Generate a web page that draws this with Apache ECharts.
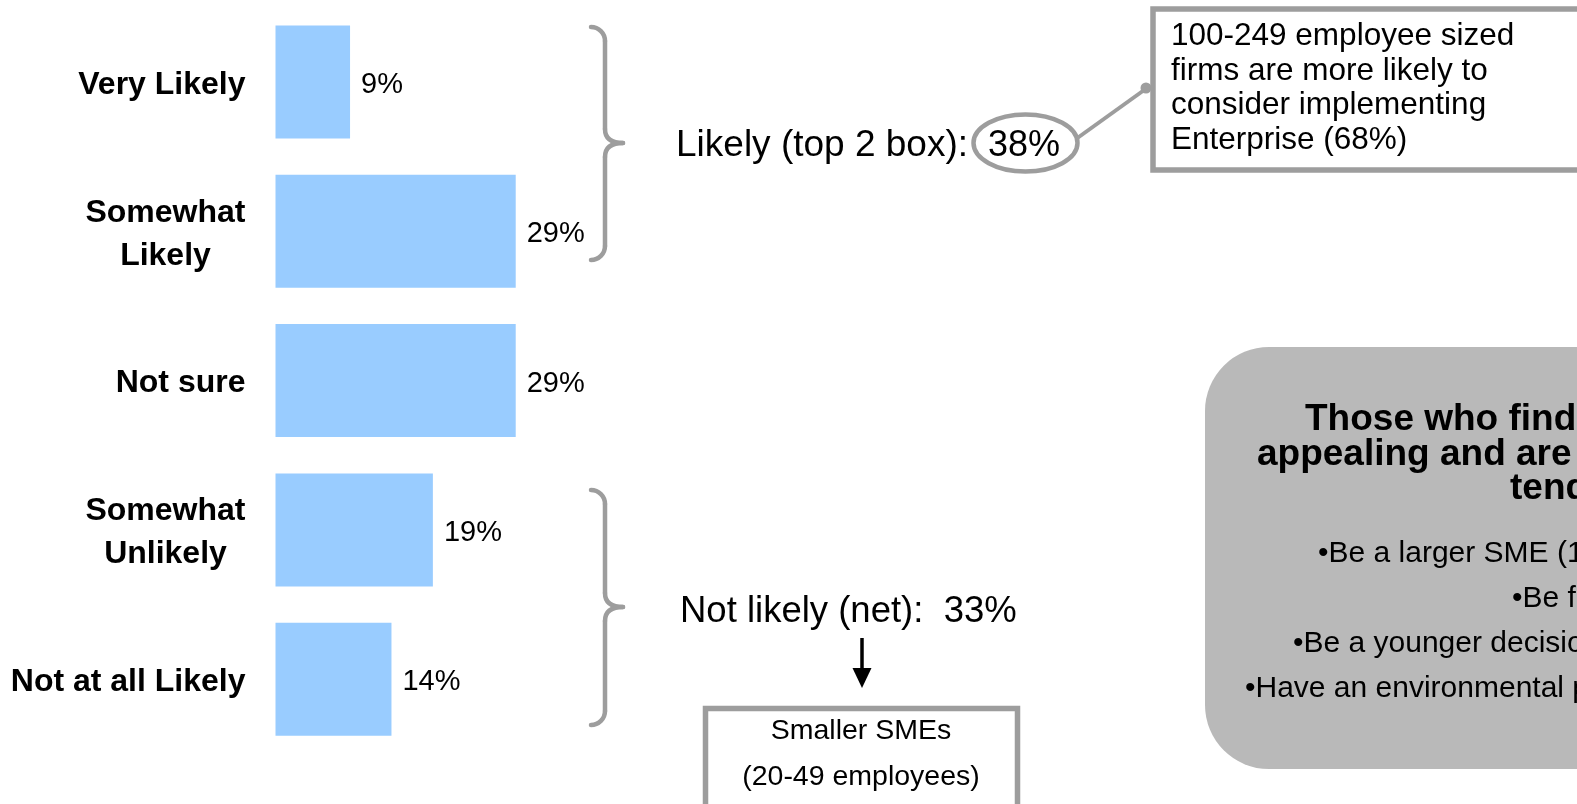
<!DOCTYPE html>
<html>
<head>
<meta charset="utf-8">
<title>Likelihood of implementing Enterprise</title>
<script src="https://cdn.jsdelivr.net/npm/echarts@6.0.0/dist/echarts.min.js"></script>
<style>
  html, body { margin: 0; padding: 0; background: #ffffff; }
  #chart { width: 1577px; height: 804px; }
</style>
</head>
<body>
<div id="chart"></div>
<script>
// Answer scale (top to bottom) and share of respondents in each answer, in %
const categories = ['Very Likely', 'Somewhat\nLikely', 'Not sure', 'Somewhat\nUnlikely', 'Not at all Likely'];
const shares = [9, 29, 29, 19, 14];

// Net summaries shown beside the braces
const likelyLabel = 'Likely (top 2 box): ';
const likelyNet = 38;
const unlikelyLabel = 'Not likely (net):  ';
const unlikelyNet = 33;

// Call-out texts
const largeFirmNote = ['100-249 employee sized', 'firms are more likely to', 'consider implementing', 'Enterprise (68%)'];
const smallFirmNote = ['Smaller SMEs', '(20-49 employees)'];
const profileTitle = ['Those who find Enterprise', 'appealing and are likely to', 'tend to:'];
const profileBullets = ['\u2022Be a larger SME (100-249 employees)', '\u2022Be female', '\u2022Be a younger decision maker', '\u2022Have an environmental policy'];

const FONT = '"Liberation Sans", Arial, Helvetica, sans-serif';
const GREY = '#9d9d9d';

const chart = echarts.init(document.getElementById('chart'), null, { renderer: 'canvas' });

// Curly brace built from two hooks, two straight runs and a pointed middle
function brace(xEnd, xLine, xTip, yTop, yBot, yMid, r) {
  const st = { stroke: GREY, lineWidth: 4.5, fill: null, lineCap: 'round' };
  return [
    { type: 'arc', shape: { cx: xEnd, cy: yTop + r, r: r, startAngle: -Math.PI / 2, endAngle: 0, clockwise: true }, style: st },
    { type: 'line', shape: { x1: xLine, y1: yTop + r, x2: xLine, y2: yMid - r }, style: st },
    { type: 'bezierCurve', shape: { x1: xLine, y1: yMid - r, cpx1: xLine, cpy1: yMid, x2: xTip, y2: yMid }, style: st },
    { type: 'bezierCurve', shape: { x1: xTip, y1: yMid, cpx1: xLine, cpy1: yMid, x2: xLine, y2: yMid + r }, style: st },
    { type: 'line', shape: { x1: xLine, y1: yMid + r, x2: xLine, y2: yBot - r }, style: st },
    { type: 'arc', shape: { cx: xEnd, cy: yBot - r, r: r, startAngle: 0, endAngle: Math.PI / 2, clockwise: true }, style: st }
  ];
}

function txt(text, x, y, size, opts) {
  return {
    type: 'text',
    style: Object.assign({
      text: text, x: x, y: y,
      fontFamily: FONT, fontSize: size, fontWeight: 'normal',
      fill: '#000000', textAlign: 'left', textVerticalAlign: 'middle'
    }, opts || {})
  };
}

const graphics = [];

// Braces grouping the top two and the bottom two answers
graphics.push(...brace(591, 605, 623, 27, 260, 143, 14));
graphics.push(...brace(591, 605, 623, 490, 725, 607, 14));

// Likely net, with the circled figure and its leader to the call-out
graphics.push(txt(likelyLabel, 676, 146, 37));
graphics.push(txt(likelyNet + '%', 988, 146, 36));
graphics.push({ type: 'ellipse', shape: { cx: 1025.5, cy: 143, rx: 52, ry: 28.5 }, style: { stroke: GREY, lineWidth: 4.5, fill: null } });
graphics.push({ type: 'line', shape: { x1: 1076, y1: 139, x2: 1147, y2: 88 }, style: { stroke: GREY, lineWidth: 4 } });
graphics.push({ type: 'circle', shape: { cx: 1146, cy: 88, r: 5.5 }, style: { fill: GREY } });

// Call-out box for the larger firms
graphics.push({ type: 'rect', shape: { x: 1153, y: 9, width: 600, height: 161 }, style: { fill: '#ffffff', stroke: GREY, lineWidth: 5.5 } });
graphics.push(txt(largeFirmNote.join('\n'), 1171, 19.5, 31.5, { textVerticalAlign: 'top', lineHeight: 34.5 }));

// Not likely net, arrow and the small-firm box
graphics.push(txt(unlikelyLabel + unlikelyNet + '%', 680, 612, 36.5));
graphics.push({ type: 'line', shape: { x1: 862, y1: 638, x2: 862, y2: 672 }, style: { stroke: '#000000', lineWidth: 3.5 } });
graphics.push({ type: 'polygon', shape: { points: [[852.5, 668], [871.5, 668], [862, 688]] }, style: { fill: '#000000' } });
graphics.push({ type: 'rect', shape: { x: 705.5, y: 708.5, width: 312, height: 140 }, style: { fill: '#ffffff', stroke: GREY, lineWidth: 5.5 } });
graphics.push(txt(smallFirmNote[0], 861, 731, 28.5, { textAlign: 'center' }));
graphics.push(txt(smallFirmNote[1], 861, 777, 28.5, { textAlign: 'center' }));

// Profile panel on the right
graphics.push({ type: 'rect', shape: { x: 1205, y: 347, width: 600, height: 422, r: 64 }, style: { fill: '#b9b9b9' } });
const titleX = [1305, 1257, 1510];
const titleY = [420, 455, 489];
profileTitle.forEach((t, i) => graphics.push(txt(t, titleX[i], titleY[i], 37, { fontWeight: 'bold' })));
const bulletX = [1318, 1512, 1293, 1245];
const bulletY = [554, 599, 644, 689];
profileBullets.forEach((t, i) => graphics.push(txt(t, bulletX[i], bulletY[i], 30)));

const option = {
  backgroundColor: '#ffffff',
  animation: false,
  grid: { left: 275.5, top: 7.35, width: 497, height: 746.5 },
  xAxis: { type: 'value', min: 0, max: 60, show: false },
  yAxis: {
    type: 'category',
    data: categories,
    inverse: true,
    axisLine: { show: false },
    axisTick: { show: false },
    splitLine: { show: false },
    axisLabel: {
      margin: 30,
      padding: [6, 0, 0, 0],
      formatter: v => v.split('\n').map(s => '{c|' + s + '}').join('\n'),
      rich: {
        c: { fontFamily: FONT, fontSize: 32, fontWeight: 'bold', color: '#000000', align: 'center', lineHeight: 43 }
      }
    }
  },
  series: [{
    type: 'bar',
    data: shares,
    barWidth: 113,
    itemStyle: { color: '#99ccff' },
    label: {
      show: true,
      position: 'right',
      distance: 11,
      offset: [0, 3],
      formatter: '{c}%',
      fontFamily: FONT,
      fontSize: 29,
      color: '#000000'
    }
  }],
  graphic: { elements: graphics }
};

chart.setOption(option);
</script>
</body>
</html>
